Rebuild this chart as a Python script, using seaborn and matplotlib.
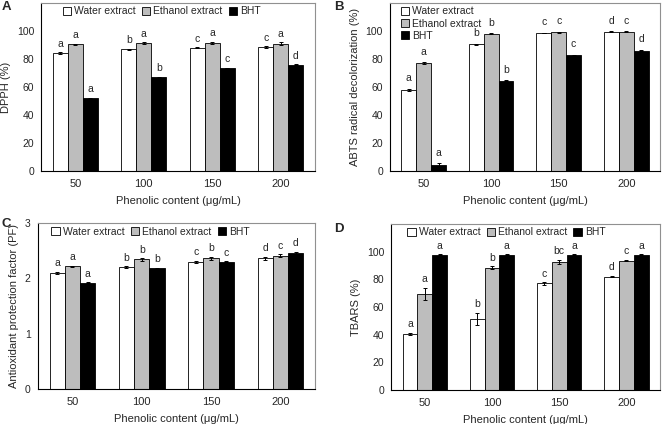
import numpy as np
import pandas as pd
import matplotlib
matplotlib.use('Agg')
import matplotlib.pyplot as plt
import seaborn as sns

# data
doses = ['50', '100', '150', '200']
groups = ['Water extract', 'Ethanol extract', 'BHT']

dpph_water = [84.0, 87.0, 88.0, 88.5]
dpph_ethanol = [90.5, 91.5, 91.5, 91.0]
dpph_bht = [52.0, 67.0, 73.5, 76.0]
dpph_err = [[0.6, 0.4, 0.4, 0.5], [0.4, 0.6, 0.8, 0.8], [0.3, 0.3, 0.3, 0.3]]
dpph_letters = [['a', 'b', 'c', 'c'], ['a', 'a', 'a', 'a'], ['a', 'b', 'c', 'd']]

abts_water = [58.0, 90.5, 98.5, 99.5]
abts_ethanol = [77.0, 98.0, 99.0, 99.5]
abts_bht = [4.5, 64.5, 82.5, 86.0]
abts_err = [[0.6, 0.5, 0.3, 0.3], [0.6, 0.4, 0.4, 0.3], [0.8, 0.3, 0.5, 0.5]]
abts_letters = [['a', 'b', 'c', 'd'], ['a', 'b', 'c', 'c'], ['a', 'b', 'c', 'd']]

pf_water = [2.10, 2.20, 2.30, 2.36]
pf_ethanol = [2.22, 2.34, 2.36, 2.41]
pf_bht = [1.92, 2.18, 2.30, 2.45]
pf_err = [[0.02, 0.02, 0.02, 0.03], [0.01, 0.02, 0.03, 0.03], [0.01, 0.01, 0.01, 0.03]]
pf_letters = [['a', 'b', 'c', 'd'], ['a', 'b', 'b', 'c'], ['a', 'b', 'c', 'd']]

tbars_water = [40.5, 51.5, 77.0, 82.0]
tbars_ethanol = [69.5, 88.5, 92.5, 93.5]
tbars_bht = [97.8, 97.6, 97.6, 97.8]
tbars_err = [[1.0, 4.5, 1.0, 0.5], [4.5, 1.0, 1.5, 0.5], [0.3, 0.3, 0.3, 0.3]]
tbars_letters = [['a', 'b', 'c', 'd'], ['a', 'b', 'bc', 'c'], ['a', 'a', 'a', 'a']]

sns.set_style('white')
plt.rcParams['font.family'] = ['Liberation Sans', 'DejaVu Sans']
plt.rcParams['font.size'] = 7.5

colors = ['white', '#bdbdbd', 'black']

fig = plt.figure(figsize=(6.62, 4.24), dpi=100)


def panel(rect, label, vals, errs, letters, ylim, yticks, ylabel, vertical_legend, leg_x, lab_pos, off):
    ax = fig.add_axes(rect)
    df = pd.DataFrame({
        'dose': np.tile(doses, 3),
        'group': np.repeat(groups, 4),
        'value': np.concatenate(vals),
    })
    sns.barplot(data=df, x='dose', y='value', hue='group', order=doses, hue_order=groups,
                palette=colors, saturation=1, width=0.66, edgecolor='black', linewidth=0.6,
                errorbar=None, ax=ax)
    bar_conts = list(ax.containers)
    for i, cont in enumerate(bar_conts):
        xs = [b.get_x() + b.get_width() / 2 for b in cont]
        hs = [b.get_height() for b in cont]
        ax.errorbar(xs, hs, yerr=errs[i], fmt='none', ecolor='black', elinewidth=0.7,
                    capsize=1.5, capthick=0.7)
        for x, h, e, t in zip(xs, hs, errs[i], letters[i]):
            ax.text(x, h + e + off, t, ha='center', va='bottom', fontsize=7.5)
    ax.set_ylim(*ylim)
    ax.set_yticks(yticks)
    ax.set_xlim(-0.5, 3.5)
    ax.set_xlabel('Phenolic content (\u03bcg/mL)', fontsize=8, labelpad=5)
    ax.set_ylabel(ylabel, fontsize=8, labelpad=4)
    ax.tick_params(axis='y', direction='out', length=3, width=0.6, labelsize=7.5, pad=2)
    ax.tick_params(axis='x', which='major', length=0, labelsize=8, pad=6)
    ax.set_xticks([0.5, 1.5, 2.5], minor=True)
    ax.tick_params(axis='x', which='minor', direction='out', length=3, width=0.6)
    for s in ['left', 'bottom']:
        ax.spines[s].set_color('black')
        ax.spines[s].set_linewidth(0.8)
    for s in ['top', 'right']:
        ax.spines[s].set_color('#909090')
        ax.spines[s].set_linewidth(0.8)
    ax.legend_.remove()
    handles = [plt.Rectangle((0, 0), 1, 1, facecolor=c, edgecolor='black', linewidth=0.6) for c in colors]
    if vertical_legend:
        ax.legend(handles, groups, loc='upper left', bbox_to_anchor=(leg_x, 1.01), ncol=1,
                  frameon=False, fontsize=7.5, handlelength=0.8, handleheight=0.8,
                  handletextpad=0.3, labelspacing=0.2, borderaxespad=0.1)
    else:
        ax.legend(handles, groups, loc='upper left', bbox_to_anchor=(leg_x, 1.01), ncol=3,
                  frameon=False, fontsize=7.5, handlelength=0.8, handleheight=0.8,
                  handletextpad=0.3, columnspacing=0.6, borderaxespad=0.1)
    fig.text(lab_pos[0], lab_pos[1], label, fontsize=9.5, fontweight='bold', va='top', ha='left')
    return ax


panel([0.062, 0.597, 0.414, 0.396], 'A', [dpph_water, dpph_ethanol, dpph_bht], dpph_err, dpph_letters,
      (0, 120), [0, 20, 40, 60, 80, 100], 'DPPH (%)', False, 0.06, (0.002, 0.998), 2.5)
panel([0.589, 0.597, 0.408, 0.396], 'B', [abts_water, abts_ethanol, abts_bht], abts_err, abts_letters,
      (0, 120), [0, 20, 40, 60, 80, 100], 'ABTS radical decolorization (%)', True, 0.02, (0.505, 0.998), 4.0)
panel([0.057, 0.083, 0.419, 0.391], 'C', [pf_water, pf_ethanol, pf_bht], pf_err, pf_letters,
      (0, 3), [0, 1, 2, 3], 'Antioxidant protection factor (PF)', False, 0.03, (0.002, 0.487), 0.06)
panel([0.591, 0.080, 0.406, 0.392], 'D', [tbars_water, tbars_ethanol, tbars_bht], tbars_err, tbars_letters,
      (0, 120), [0, 20, 40, 60, 80, 100], 'TBARS (%)', False, 0.04, (0.505, 0.475), 2.5)

fig.savefig('out.png', dpi=100)
